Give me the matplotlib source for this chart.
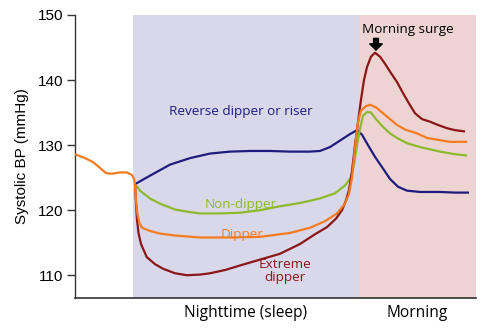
import matplotlib
matplotlib.use("Agg")
import matplotlib.pyplot as plt
from matplotlib.transforms import blended_transform_factory

# ---- data (time in arbitrary units, systolic BP in mmHg) ----
pre_x = [0, 10, 18, 25, 31, 37, 45, 52, 57, 59, 60]
pre_y = [128.6, 128.0, 127.4, 126.5, 125.7, 125.6, 125.8, 125.8, 125.4, 124.8, 124.0]

dip_x = [60, 61, 62.5, 64.5, 67, 75, 85, 100, 125, 155, 185, 215, 235, 250, 262, 270, 274,
         277, 279, 281, 283, 286, 291, 295, 301, 308, 315, 322, 330, 342, 352, 375, 392]
dip_y = [124.0, 121.5, 119.3, 118.0, 117.3, 116.8, 116.4, 116.1, 115.8, 115.8, 115.9, 116.5,
         117.3, 118.3, 119.5, 121.0, 122.5, 125.0, 128.0, 131.0, 133.5, 135.3, 136.0, 136.2,
         135.8, 134.9, 134.0, 133.1, 132.4, 131.8, 131.1, 130.5, 130.5]

rev_x = [60, 75, 95, 115, 135, 155, 175, 195, 215, 235, 245, 255, 265, 275, 282, 287, 293,
         300, 308, 315, 323, 332, 345, 365, 380, 394]
rev_y = [124.0, 125.3, 127.0, 128.0, 128.7, 129.0, 129.1, 129.1, 129.0, 129.0, 129.1, 129.7,
         130.7, 131.7, 132.3, 131.6, 130.0, 128.2, 126.4, 124.8, 123.6, 123.0, 122.8, 122.8,
         122.7, 122.7]

non_x = [60, 65, 75, 85, 100, 115, 125, 145, 165, 185, 205, 225, 245, 260, 270, 276, 279,
         282, 285, 288, 292, 296, 301, 308, 315, 323, 332, 345, 365, 380, 392]
non_y = [124.0, 123.0, 121.8, 121.0, 120.1, 119.7, 119.5, 119.5, 119.6, 120.0, 120.6, 121.1,
         121.8, 122.6, 123.8, 125.0, 127.0, 130.0, 132.5, 134.5, 135.1, 135.0, 134.0, 132.8,
         131.8, 131.0, 130.3, 129.7, 129.0, 128.6, 128.4]

ext_x = [60, 61, 62, 63.5, 66, 71.7, 80, 88, 100, 112, 125, 135, 150, 165, 185, 205, 225,
         240, 252, 261, 267, 271, 274, 277, 280, 283, 286, 289, 292, 296, 300, 305, 310, 315,
         322, 328, 334, 340, 347, 355, 363, 372, 380, 390]
ext_y = [124.0, 121.0, 118.5, 116.5, 114.8, 112.8, 111.7, 111.0, 110.3, 110.0, 110.1, 110.3,
         110.8, 111.5, 112.4, 113.3, 114.8, 116.3, 117.4, 118.7, 120.0, 121.5, 123.1, 126.0,
         130.0, 133.5, 137.0, 140.0, 142.0, 143.6, 144.2, 143.6, 142.5, 141.3, 139.7, 138.0,
         136.4, 134.9, 134.0, 133.6, 133.1, 132.6, 132.3, 132.1]

night_span = (58, 284)
morning_span = (284, 401)
yticks = [110, 120, 130, 140, 150]

c_navy = "#1f1c7e"
c_green = "#8dba2c"
c_orange = "#f47c20"
c_red = "#8a1619"
c_night = "#d9d7ea"
c_morning = "#edd4d3"

fig = plt.figure(figsize=(5.01, 3.29), dpi=100)
ax = fig.add_axes([75 / 501, 1 - 298 / 329, 401 / 501, 283 / 329])
ax.set_xlim(0, 401)
ax.set_ylim(106.5, 150)

ax.axvspan(*night_span, ymin=0, ymax=1, color=c_night, lw=0, zorder=0)
ax.axvspan(*morning_span, ymin=0, ymax=1, color=c_morning, lw=0, zorder=0)

lw = 1.6
ax.plot(rev_x, rev_y, color=c_navy, lw=lw, zorder=3, solid_capstyle="butt")
ax.plot(non_x, non_y, color=c_green, lw=lw, zorder=3, solid_capstyle="butt")
ax.plot(ext_x, ext_y, color=c_red, lw=lw, zorder=4, solid_capstyle="butt")
ax.plot(dip_x, dip_y, color=c_orange, lw=lw, zorder=5, solid_capstyle="butt")
ax.plot(pre_x, pre_y, color=c_orange, lw=lw, zorder=5, solid_capstyle="butt")

for s in ("top", "right"):
    ax.spines[s].set_visible(False)
ax.spines["left"].set_color("#333333")
ax.spines["bottom"].set_color("#333333")
ax.spines["left"].set_linewidth(1.0)
ax.spines["bottom"].set_linewidth(1.2)
ax.set_xticks([])
ax.set_yticks(yticks)
ax.set_yticklabels([str(v) for v in yticks], family="Liberation Sans", fontsize=11)
ax.tick_params(axis="y", length=5.5, width=1, color="#333333", pad=3)
ax.set_ylabel("Systolic BP (mmHg)", family="Liberation Sans", fontsize=11, labelpad=6)

lab_font = "Open Sans"
fs = 9.7
ax.text(166, 135.2, "Reverse dipper or riser", color=c_navy, fontsize=fs,
        family=lab_font, ha="center", va="center")
ax.text(166, 120.8, "Non-dipper", color=c_green, fontsize=fs,
        family=lab_font, ha="center", va="center")
ax.text(167, 116.3, "Dipper", color=c_orange, fontsize=fs,
        family=lab_font, ha="center", va="center")
ax.text(210, 110.7, "Extreme\ndipper", color=c_red, fontsize=fs,
        family=lab_font, ha="center", va="center", linespacing=1.0)

ax.text(333, 147.8, "Morning surge", color="black", fontsize=fs,
        family=lab_font, ha="center", va="center")
ax.annotate("", xy=(301, 144.6), xytext=(301, 146.4),
            arrowprops=dict(width=3.5, headwidth=9, headlength=4.5,
                            color="black", shrink=0))

tr = blended_transform_factory(ax.transData, ax.transAxes)
ax.text(171, -0.053, "Nighttime (sleep)", transform=tr, fontsize=11.2,
        family=lab_font, ha="center", va="center")
ax.text(342, -0.053, "Morning", transform=tr, fontsize=11.2,
        family=lab_font, ha="center", va="center")

fig.savefig("out.png", dpi=100)
